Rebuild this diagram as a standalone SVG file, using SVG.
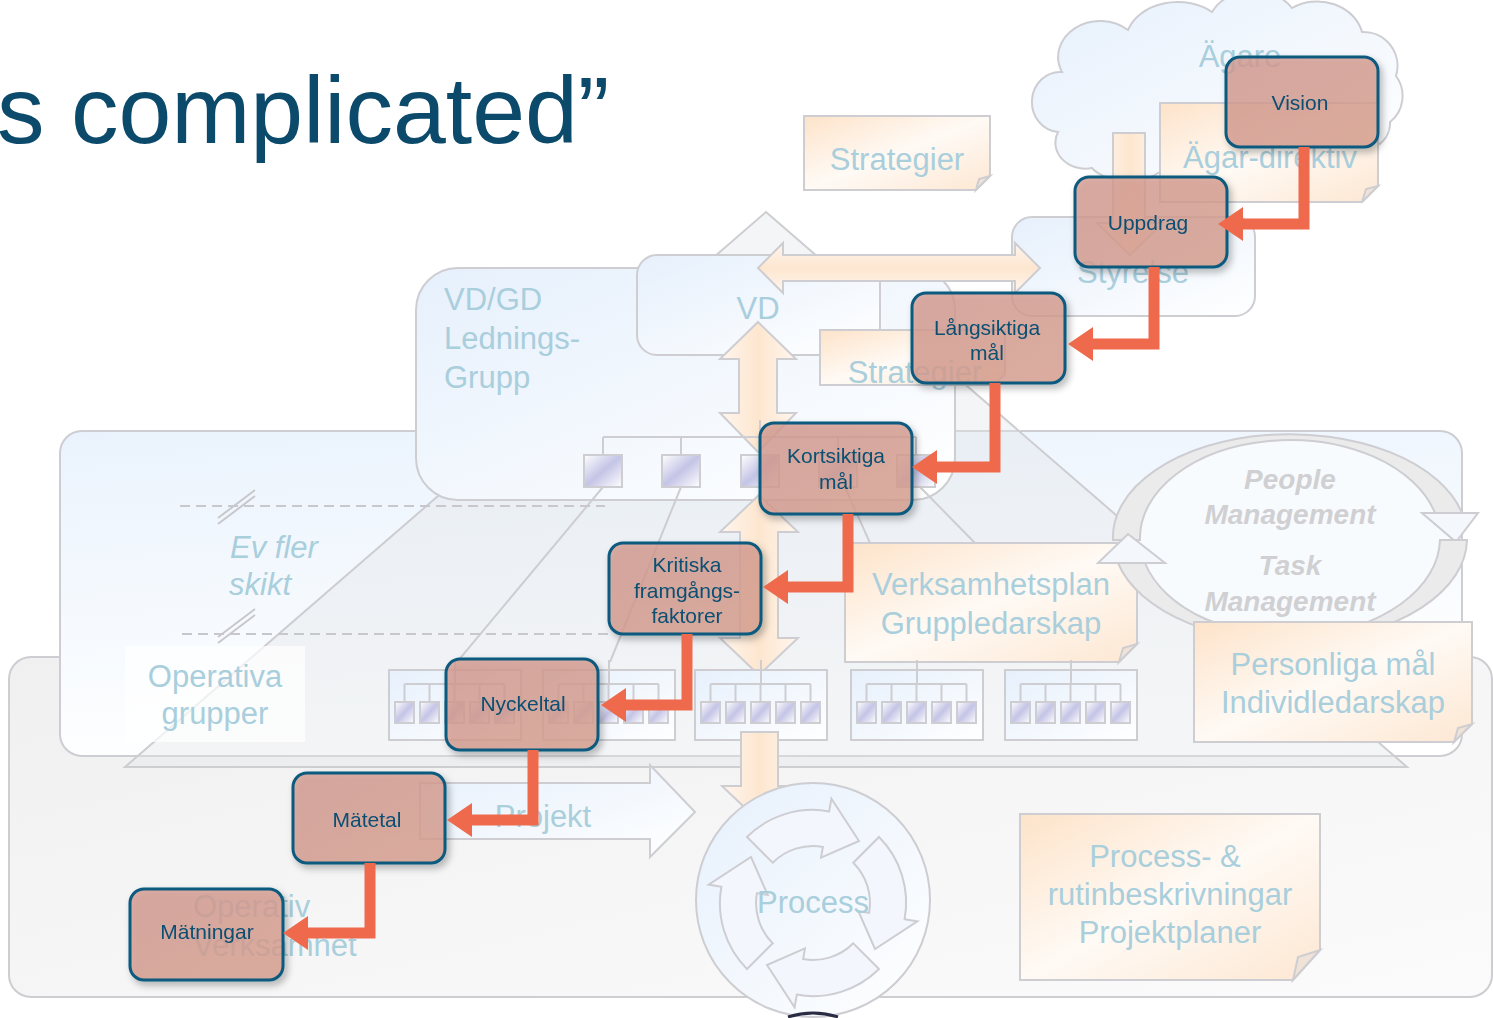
<svg xmlns="http://www.w3.org/2000/svg" width="1493" height="1018" viewBox="0 0 1493 1018">
<defs>
<style>
.ol{stroke:#cdcdd2;stroke-width:2}
.lt{font-family:"Liberation Sans",Arial,sans-serif;font-size:31px;fill:#a9cedc}
.ltc{font-family:"Liberation Sans",Arial,sans-serif;font-size:31px;fill:#a9cedc;text-anchor:middle}
.pm{font-family:"Liberation Sans",Arial,sans-serif;font-size:28px;font-weight:bold;font-style:italic;fill:#d0d0d3;text-anchor:middle}
.rb{fill:url(#red);fill-opacity:0.78;stroke:#0b5a7e;stroke-width:3}
.rt{font-family:"Liberation Sans",Arial,sans-serif;font-size:21px;fill:#0b4f73;text-anchor:middle}
.cn{fill:none;stroke:#ef6a4c;stroke-width:11;marker-end:url(#ah)}
.sqr{fill:url(#sq);stroke:#cdcdd2;stroke-width:2}
</style>
<linearGradient id="red" x1="0" y1="0" x2="1" y2="1">
<stop offset="0" stop-color="#d49a90"/><stop offset="1" stop-color="#d99f8e"/>
</linearGradient>
<linearGradient id="peach" x1="0" y1="0" x2="1" y2="1">
<stop offset="0" stop-color="#fde3c9"/><stop offset="0.5" stop-color="#fffaf5"/><stop offset="1" stop-color="#fde7d2"/>
</linearGradient>
<linearGradient id="peachV" x1="0" y1="0" x2="1" y2="0">
<stop offset="0" stop-color="#fff6ee"/><stop offset="0.5" stop-color="#fde6cf"/><stop offset="1" stop-color="#fff6ee"/>
</linearGradient>
<linearGradient id="peachH" x1="0" y1="0" x2="0" y2="1">
<stop offset="0" stop-color="#fff6ee"/><stop offset="0.5" stop-color="#fde6cf"/><stop offset="1" stop-color="#fff6ee"/>
</linearGradient>
<linearGradient id="blue" x1="0" y1="0" x2="1" y2="1">
<stop offset="0" stop-color="#e6f0fc"/><stop offset="1" stop-color="#ffffff"/>
</linearGradient>
<linearGradient id="blueV" x1="0" y1="0" x2="0.3" y2="1">
<stop offset="0" stop-color="#eaf3fd"/><stop offset="1" stop-color="#ffffff"/>
</linearGradient>
<linearGradient id="gray" x1="0" y1="0" x2="1" y2="1">
<stop offset="0" stop-color="#f0f0f1"/><stop offset="1" stop-color="#fbfbfb"/>
</linearGradient>
<linearGradient id="sq" x1="0" y1="0" x2="1" y2="1">
<stop offset="0" stop-color="#ffffff"/><stop offset="0.5" stop-color="#c4c4e6"/><stop offset="1" stop-color="#ffffff"/>
</linearGradient>
<filter id="sh" x="-20%" y="-20%" width="140%" height="150%">
<feDropShadow dx="3" dy="4" stdDeviation="3.5" flood-color="#000" flood-opacity="0.3"/>
</filter>
<marker id="ah" markerUnits="userSpaceOnUse" markerWidth="26" markerHeight="36" refX="0" refY="17" orient="auto" viewBox="0 0 26 34">
<path d="M0,0 L25,17 L0,34 Z" fill="#ef6a4c"/>
</marker>
<path id="parc" d="M-66,-66 A93,93 0 0 1 16.2,-91.6 L18.4,-104.4 L46,-62 L8,-45.3 L9.9,-56.1 A57,57 0 0 0 -40.3,-40.3 Z"/>
<g id="org">
<rect x="0" y="0" width="132" height="70" fill="url(#blue)" class="ol"/>
<path d="M66,-10 V14 M15.5,14 H115.5 M15.5,14 V32 M40.5,14 V32 M65.5,14 V32 M90.5,14 V32 M115.5,14 V32" fill="none" class="ol"/>
<rect x="6" y="32" width="19" height="21" class="sqr"/>
<rect x="31" y="32" width="19" height="21" class="sqr"/>
<rect x="56" y="32" width="19" height="21" class="sqr"/>
<rect x="81" y="32" width="19" height="21" class="sqr"/>
<rect x="106" y="32" width="19" height="21" class="sqr"/>
</g>
</defs>

<rect width="1493" height="1018" fill="#ffffff"/>

<text x="-3" y="143" font-family="Liberation Sans, Arial, sans-serif" font-size="95" fill="#0c4a6b">s complicated”</text>

<g id="operativ-verksamhet">
<rect x="9" y="657" width="1483" height="340" rx="22" fill="url(#gray)" class="ol"/>
</g>
<g id="mellanchefer">
<rect x="60" y="431" width="1402" height="325" rx="22" fill="url(#blueV)" class="ol"/>
</g>
<g id="pyramid">
<polygon points="766,212 1407,767 125,767" fill="#e4e5e8" fill-opacity="0.4" class="ol"/>
</g>

<g id="vdgd">
<rect x="416" y="268" width="539" height="232" rx="42" fill="url(#blue)" class="ol"/>
<text class="lt" x="444" y="310">VD/GD</text>
<text class="lt" x="444" y="349">Lednings-</text>
<text class="lt" x="444" y="388">Grupp</text>
</g>
<g id="vd">
<rect x="637" y="255" width="243" height="100" rx="20" fill="url(#blue)" class="ol"/>
<text class="ltc" x="758" y="319">VD</text>
</g>
<g id="styrelse">
<rect x="1012" y="217" width="243" height="99" rx="20" fill="url(#blue)" class="ol"/>
<text class="ltc" x="1133" y="283">Styrelse</text>
</g>
<g id="arrow-h">
<polygon points="758,268 783,243 783,255 1015,255 1015,243 1040,268 1015,293 1015,281 783,281 783,293" fill="url(#peachH)" class="ol"/>
</g>

<g id="agare">
<path d="M1092,168 A30,26 0 0 1 1058,132 A28,30 0 0 1 1062,72 A42,36 0 0 1 1128,30 A52,40 0 0 1 1212,12 A46,38 0 0 1 1292,8 A46,40 0 0 1 1362,32 A34,34 0 0 1 1396,76 A30,32 0 0 1 1390,122 A32,28 0 0 1 1348,150 A55,30 0 0 1 1258,166 A60,30 0 0 1 1160,172 A40,22 0 0 1 1092,168 Z" fill="url(#blue)" class="ol"/>
<text class="ltc" x="1240" y="67">Ägare</text>
</g>
<g id="agardirektiv">
<path d="M1160,103 H1378 V186 L1362,202 H1160 Z" fill="url(#peach)" class="ol"/>
<path d="M1362,202 L1366,189 L1378,186 Z" fill="#efe2d6" class="ol"/>
<text class="ltc" x="1270" y="168">Ägar-direktiv</text>
</g>
<g id="arrow-agare">
<polygon points="1113,133 1145,133 1145,223 1163,223 1130,255 1097,223 1113,223" fill="url(#peachV)" class="ol"/>
</g>

<g id="strategier-top">
<path d="M804,116 H990 V176 L976,190 H804 Z" fill="url(#peach)" class="ol"/>
<path d="M976,190 L979,179 L990,176 Z" fill="#efe2d6" class="ol"/>
<text class="ltc" x="897" y="170">Strategier</text>
</g>
<g id="strategier-mid">
<path d="M820,330 H1005 V374 L994,385 H820 Z" fill="url(#peach)" class="ol"/>
<text class="ltc" x="915" y="383">Strategier</text>
</g>

<g id="arrow-v1">
<polygon points="758,322 796,359 777,359 777,413 796,413 758,452 720,413 739,413 739,359 720,359" fill="url(#peachV)" class="ol"/>
</g>

<g id="lg-squares">
<path d="M603,437 H916 M603,437 V455 M681,437 V455 M760,420 V455 M838,437 V455 M916,437 V455" fill="none" class="ol"/>
<rect x="584" y="455" width="38" height="32" class="sqr"/>
<rect x="662" y="455" width="38" height="32" class="sqr"/>
<rect x="741" y="455" width="38" height="32" class="sqr"/>
<rect x="819" y="455" width="38" height="32" class="sqr"/>
<rect x="897" y="455" width="38" height="32" class="sqr"/>
<path d="M603,487 L457,662 M681,487 L610,662 M845,487 L870,543 M920,487 L975,543" fill="none" class="ol"/>
</g>

<g id="skikt">
<path d="M180,506 H605 M182,634 H610" fill="none" stroke="#c8c8cc" stroke-width="2" stroke-dasharray="10 6"/>
<path d="M218,524 L255,496 M218,518 L255,490 M218,643 L255,615 M218,637 L255,609" fill="none" stroke="#c8c8cc" stroke-width="2"/>
<text class="lt" x="230" y="558" font-style="italic">Ev fler</text>
<text class="lt" x="229" y="595" font-style="italic">skikt</text>
</g>

<g id="operativa-grupper">
<rect x="125" y="646" width="180" height="96" fill="#ffffff" fill-opacity="0.7"/>
<text class="ltc" x="215" y="687">Operativa</text>
<text class="ltc" x="215" y="724">grupper</text>
</g>

<g id="arrow-v2">
<polygon points="759,495 798,532 778,532 778,638 798,638 759,675 720,638 740,638 740,532 720,532" fill="url(#peachV)" class="ol"/>
</g>

<g id="verksamhetsplan">
<path d="M845,543 H1137 V644 L1119,662 H845 Z" fill="url(#peach)" class="ol"/>
<path d="M1119,662 L1123,648 L1137,644 Z" fill="#efe2d6" class="ol"/>
<text class="ltc" x="991" y="595">Verksamhetsplan</text>
<text class="ltc" x="991" y="634">Gruppledarskap</text>
</g>

<g id="org-charts">
<use href="#org" x="389" y="670"/>
<use href="#org" x="543" y="670"/>
<use href="#org" x="695" y="670"/>
<use href="#org" x="851" y="670"/>
<use href="#org" x="1005" y="670"/>
</g>

<g id="people-task">
<ellipse cx="1290" cy="538" rx="160" ry="98" fill="#f8fbfe"/>
<path d="M1113,540 A177,103 0 0 1 1462,513 L1435,513 A150,98 0 0 0 1140,540 Z" fill="#ebebec" class="ol"/>
<polygon points="1422,513 1478,513 1456,542" fill="#f4f7fb" class="ol"/>
<path d="M1467,540 A177,103 0 0 1 1118,563 L1145,563 A150,98 0 0 0 1440,540 Z" fill="#ebebec" class="ol"/>
<polygon points="1098,563 1165,563 1128,534" fill="#f4f7fb" class="ol"/>
<text class="pm" x="1290" y="489">People</text>
<text class="pm" x="1290" y="524">Management</text>
<text class="pm" x="1290" y="575">Task</text>
<text class="pm" x="1290" y="611">Management</text>
</g>

<g id="personliga">
<path d="M1194,622 H1472 V724 L1454,742 H1194 Z" fill="url(#peach)" class="ol"/>
<path d="M1454,742 L1458,728 L1472,724 Z" fill="#efe2d6" class="ol"/>
<text class="ltc" x="1333" y="675">Personliga mål</text>
<text class="ltc" x="1333" y="713">Individledarskap</text>
</g>

<g id="projekt">
<polygon points="420,783 650,783 650,765 695,812 650,857 650,839 420,839" fill="url(#blue)" class="ol"/>
<text class="ltc" x="543" y="827">Projekt</text>
</g>

<g id="arrow-v3">
<polygon points="741,732 778,732 778,786 797,786 760,822 722,786 741,786" fill="url(#peachV)" class="ol"/>
</g>

<g id="process">
<circle cx="813" cy="900" r="117" fill="url(#blue)" class="ol"/>
<g fill="#f3f7fd" class="ol">
<use href="#parc" transform="translate(813,903)"/>
<use href="#parc" transform="translate(813,903) rotate(90)"/>
<use href="#parc" transform="translate(813,903) rotate(180)"/>
<use href="#parc" transform="translate(813,903) rotate(270)"/>
</g>
<path d="M788,1017 Q813,1009 838,1017" fill="none" stroke="#2a2c44" stroke-width="3"/>
<text class="ltc" x="813" y="913">Process</text>
</g>

<g id="process-note">
<path d="M1020,814 H1320 V950 L1293,980 H1020 Z" fill="url(#peach)" class="ol"/>
<path d="M1293,980 L1298,957 L1320,950 Z" fill="#efe2d6" class="ol"/>
<text class="ltc" x="1165" y="867">Process- &amp;</text>
<text class="ltc" x="1170" y="905">rutinbeskrivningar</text>
<text class="ltc" x="1170" y="943">Projektplaner</text>
</g>

<g id="operativ-text">
<text class="lt" x="193" y="917">Operativ</text>
<text class="lt" x="193" y="956">Verksamhet</text>
</g>

<g id="vision" filter="url(#sh)">
<rect class="rb" x="1226" y="57" width="152" height="90" rx="14"/>
<text class="rt" x="1300" y="110">Vision</text>
</g>
<g id="uppdrag" filter="url(#sh)">
<rect class="rb" x="1075" y="177" width="152" height="90" rx="14"/>
<text class="rt" x="1148" y="230">Uppdrag</text>
</g>
<g id="langsiktiga" filter="url(#sh)">
<rect class="rb" x="912" y="293" width="153" height="90" rx="14"/>
<text class="rt" x="987" y="335">Långsiktiga</text>
<text class="rt" x="987" y="360">mål</text>
</g>
<g id="kortsiktiga" filter="url(#sh)">
<rect class="rb" x="760" y="423" width="152" height="91" rx="14"/>
<text class="rt" x="836" y="463">Kortsiktiga</text>
<text class="rt" x="836" y="489">mål</text>
</g>
<g id="kritiska" filter="url(#sh)">
<rect class="rb" x="609" y="543" width="152" height="91" rx="14"/>
<text class="rt" x="687" y="572">Kritiska</text>
<text class="rt" x="687" y="598">framgångs-</text>
<text class="rt" x="687" y="623">faktorer</text>
</g>
<g id="nyckeltal" filter="url(#sh)">
<rect class="rb" x="446" y="659" width="152" height="91" rx="14"/>
<text class="rt" x="523" y="711">Nyckeltal</text>
</g>
<g id="matetal" filter="url(#sh)">
<rect class="rb" x="293" y="773" width="152" height="90" rx="14"/>
<text class="rt" x="367" y="827">Mätetal</text>
</g>
<g id="matningar" filter="url(#sh)">
<rect class="rb" x="130" y="889" width="153" height="91" rx="14"/>
<text class="rt" x="207" y="939">Mätningar</text>
</g>

<g id="connectors">
<path class="cn" d="M1304,147 V224 H1243"/>
<path class="cn" d="M1154,267 V344 H1093"/>
<path class="cn" d="M995,383 V467 H937"/>
<path class="cn" d="M848,514 V587 H788"/>
<path class="cn" d="M687,634 V705 H626"/>
<path class="cn" d="M533,750 V820 H472"/>
<path class="cn" d="M370,863 V933 H308"/>
</g>
</svg>
